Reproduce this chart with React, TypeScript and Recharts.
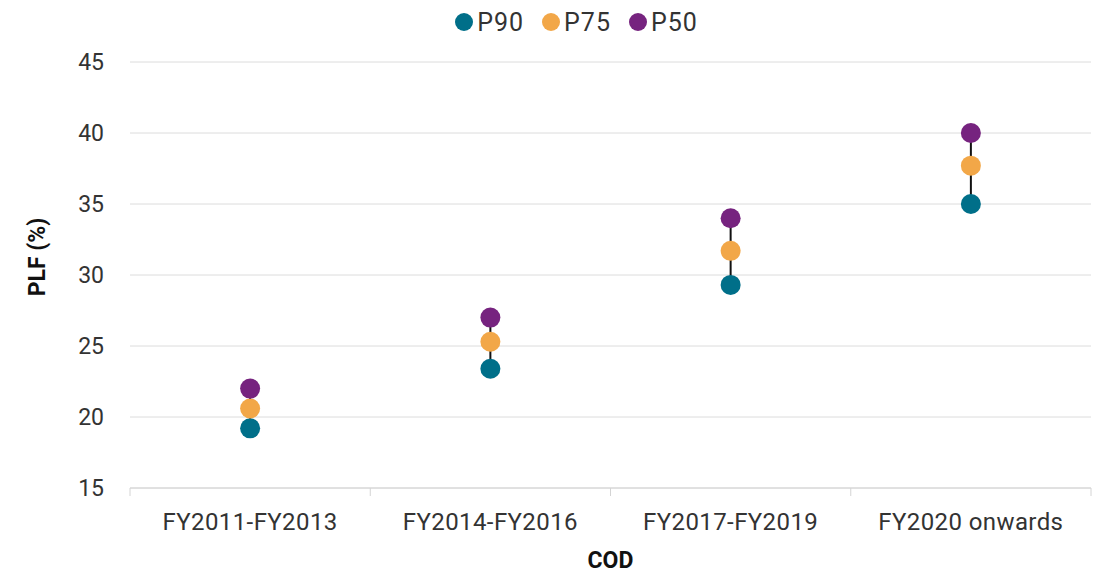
import { CartesianGrid, ErrorBar, Legend, Scatter, ScatterChart, XAxis, YAxis } from 'recharts';

const categories = ['FY2011-FY2013', 'FY2014-FY2016', 'FY2017-FY2019', 'FY2020 onwards'];
const p90 = [19.2, 23.4, 29.3, 35.0];
const p75 = [20.6, 25.3, 31.7, 37.7];
const p50 = [22.0, 27.0, 34.0, 40.0];
const yTicks = [15, 20, 25, 30, 35, 40, 45];

const COLORS = { p90: '#006f89', p75: '#f2a748', p50: '#76237f' };
const FONT = 'Roboto, "Noto Sans", sans-serif';
const TEXT = '#333';

const rows = categories.map((c, i) => ({
  x: i + 0.5,
  cat: c,
  p90: p90[i],
  p75: p75[i],
  p50: p50[i],
  // high-low connector drawn from the P90 point up to P50
  range: [0, p50[i] - p90[i]],
}));

const xTicks = [0, 0.5, 1, 1.5, 2, 2.5, 3, 3.5, 4];

function XTick(props: any) {
  const { x, y, payload } = props;
  const v = payload.value;
  if (Number.isInteger(v)) {
    return <line x1={x} x2={x} y1={y} y2={y + 8} stroke="#d4d4d4" strokeWidth={1} />;
  }
  return (
    <text x={x} y={y + 42} textAnchor="middle" fill={TEXT} fontSize={24} fontFamily={FONT} letterSpacing={0.4}>
      {categories[v - 0.5]}
    </text>
  );
}

const dot = (color: string) => (props: any) => <circle cx={props.cx} cy={props.cy} r={10} fill={color} />;

function LegendBox() {
  const items = [
    { name: 'P90', color: COLORS.p90 },
    { name: 'P75', color: COLORS.p75 },
    { name: 'P50', color: COLORS.p50 },
  ];
  return (
    <div style={{ display: 'flex', justifyContent: 'center', paddingLeft: 62, height: 54, fontFamily: FONT, fontSize: 25, letterSpacing: 1, color: TEXT }}>
      {items.map(it => (
        <div key={it.name} style={{ display: 'flex', alignItems: 'center', height: 28, marginRight: it.name === 'P50' ? 0 : 18 }}>
          <span style={{ width: 18, height: 18, borderRadius: 9, background: it.color, display: 'inline-block', marginRight: 4 }} />
          <span>{it.name}</span>
        </div>
      ))}
    </div>
  );
}

export default function App() {
  return (
    <div style={{ position: 'absolute', left: 0, top: 0 }}>
      <ScatterChart width={1097} height={573} margin={{ top: 8, right: 6, bottom: 0, left: 0 }}>
        <CartesianGrid vertical={false} stroke="#dcdcdc" />
        <Legend verticalAlign="top" align="center" content={() => <LegendBox />} />
        <XAxis
          type="number"
          dataKey="x"
          domain={[0, 4]}
          ticks={xTicks}
          interval={0}
          tickLine={false}
          tickSize={0}
          tickMargin={0}
          axisLine={{ stroke: '#d4d4d4' }}
          tick={<XTick />}
          height={85}
          label={(p: any) => (
            <text
              x={p.viewBox.x + p.viewBox.width / 2}
              y={p.viewBox.y + 80}
              textAnchor="middle"
              fontWeight={700}
              fontSize={23}
              fontFamily={FONT}
              fill="#111"
            >
              COD
            </text>
          )}
        />
        <YAxis
          type="number"
          domain={[15, 45]}
          ticks={yTicks}
          interval={0}
          width={130}
          axisLine={false}
          tickLine={false}
          tickSize={0}
          tickMargin={26}
          tick={{ fill: TEXT, fontSize: 23, fontFamily: FONT }}
          label={(p: any) => (
            <text
              x={37}
              y={p.viewBox.y + p.viewBox.height / 2 - 18}
              transform={`rotate(-90, 37, ${p.viewBox.y + p.viewBox.height / 2 - 18})`}
              textAnchor="middle"
              dominantBaseline="central"
              fontWeight={700}
              fontSize={23}
              fontFamily={FONT}
              fill="#111"
            >
              PLF (%)
            </text>
          )}
        />
        <Scatter name="P90" data={rows} dataKey="p90" fill={COLORS.p90} shape={dot(COLORS.p90)} isAnimationActive={false}>
          <ErrorBar dataKey="range" direction="y" width={0} stroke="#111" strokeWidth={2} />
        </Scatter>
        <Scatter name="P75" data={rows} dataKey="p75" fill={COLORS.p75} shape={dot(COLORS.p75)} isAnimationActive={false} />
        <Scatter name="P50" data={rows} dataKey="p50" fill={COLORS.p50} shape={dot(COLORS.p50)} isAnimationActive={false} />
      </ScatterChart>
    </div>
  );
}
